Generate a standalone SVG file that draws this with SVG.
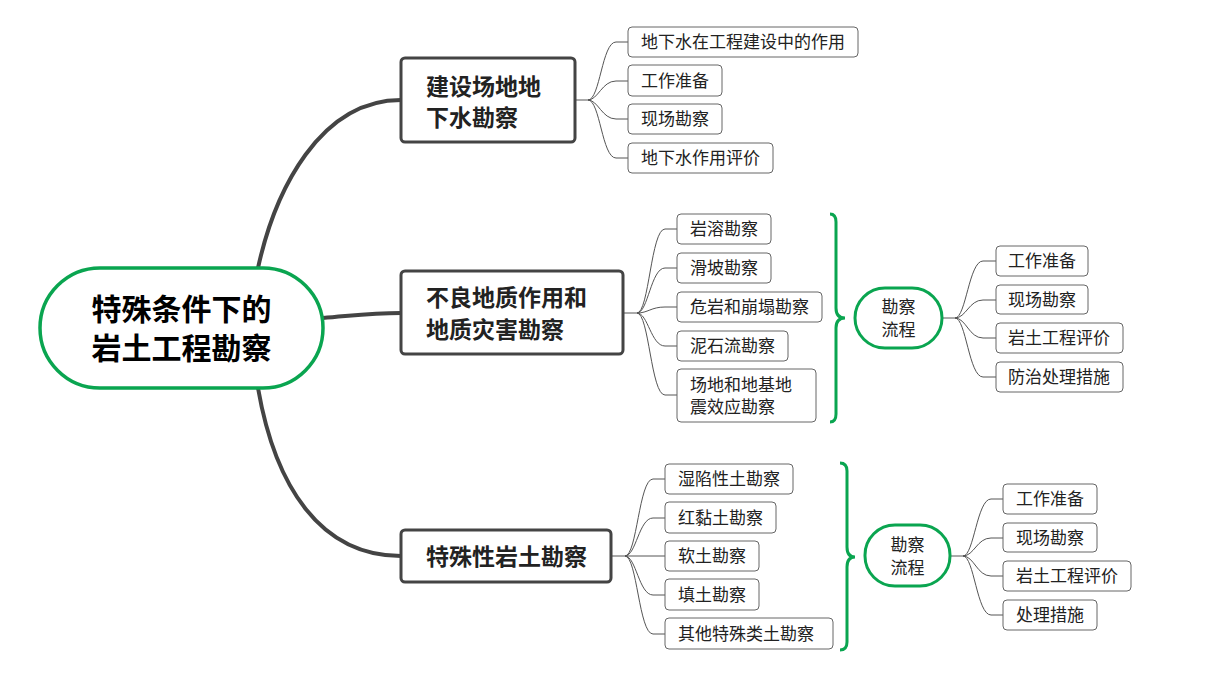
<svg xmlns="http://www.w3.org/2000/svg" width="1220" height="686" viewBox="0 0 1220 686">
<style>
text{font-family:"Microsoft YaHei","Noto Sans CJK SC",sans-serif;fill:#222}
.t{font-size:17px}
.b{font-size:23px;font-weight:bold}
.r{font-size:30px;font-weight:bold;fill:#000}
.leaf{fill:#fff;stroke:#666;stroke-width:1}
.br{fill:#fff;stroke:#444;stroke-width:3}
.gr{fill:#fff;stroke:#0aa550;stroke-width:3.5}
.main{fill:none;stroke:#444;stroke-width:4}
.thin{fill:none;stroke:#555;stroke-width:1}
.brace{fill:none;stroke:#0aa550;stroke-width:3}
</style>
<rect width="1220" height="686" fill="#fff"/>
<g id="connectors">
<path class="main" d="M258,268 C275,190 320,100 401,100"/>
<path class="main" d="M323,318 C350,316 370,313 401,313"/>
<path class="main" d="M258,388 C275,486 320,556 401,556"/>
<path class="thin" d="M575,100 H588 C600,100 602,42 616,42 H628"/>
<path class="thin" d="M588,100 C598,100 602,81 616,81 H628"/>
<path class="thin" d="M588,100 C598,100 602,119 616,119 H628"/>
<path class="thin" d="M588,100 C600,100 602,158 616,158 H628"/>
<path class="thin" d="M623,313 H637 C649,313 651,229 665,229 H677"/>
<path class="thin" d="M637,313 C648,313 651,268 665,268 H677"/>
<path class="thin" d="M637,313 C648,313 651,307 665,307 H677"/>
<path class="thin" d="M637,313 C648,313 651,346 665,346 H677"/>
<path class="thin" d="M637,313 C649,313 651,395 665,395 H677"/>
<path class="thin" d="M942,318 H955 C966,318 969,261 983,261 H996"/>
<path class="thin" d="M955,318 C966,318 969,300 983,300 H996"/>
<path class="thin" d="M955,318 C966,318 969,338 983,338 H996"/>
<path class="thin" d="M955,318 C966,318 969,377 983,377 H996"/>
<path class="thin" d="M611,556 H625 C637,556 639,479 653,479 H665"/>
<path class="thin" d="M625,556 C636,556 639,518 653,518 H665"/>
<path class="thin" d="M625,556 H665"/>
<path class="thin" d="M625,556 C636,556 639,595 653,595 H665"/>
<path class="thin" d="M625,556 C637,556 639,634 653,634 H665"/>
<path class="thin" d="M950,556 H963 C974,556 977,499 991,499 H1003"/>
<path class="thin" d="M963,556 C974,556 977,538 991,538 H1003"/>
<path class="thin" d="M963,556 C974,556 977,576 991,576 H1003"/>
<path class="thin" d="M963,556 C974,556 977,615 991,615 H1003"/>
<path class="brace" d="M830,214 Q836,214 836,222 V308 Q836,318 845,318 Q836,318 836,328 V414 Q836,422 830,422"/>
<path class="brace" d="M840,463 Q847,463 847,471 V547 Q847,557 855,557 Q847,557 847,567 V642 Q847,650 840,650"/>
</g>
<g id="root">
<rect class="gr" x="40" y="268" width="283" height="120" rx="60"/>
<text class="r" x="181.5" y="320" text-anchor="middle">特殊条件下的</text>
<text class="r" x="181.5" y="359" text-anchor="middle">岩土工程勘察</text>
</g>
<g id="b1">
<rect class="br" x="401" y="58" width="174" height="84" rx="4"/>
<text class="b" x="426" y="95">建设场地地</text>
<text class="b" x="426" y="126">下水勘察</text>
</g>
<g id="b1c1"><rect class="leaf" x="628" y="27" width="230" height="30" rx="4"/><text class="t" x="641" y="48">地下水在工程建设中的作用</text></g>
<g id="b1c2"><rect class="leaf" x="628" y="65" width="94" height="31" rx="4"/><text class="t" x="641" y="87">工作准备</text></g>
<g id="b1c3"><rect class="leaf" x="628" y="104" width="94" height="30" rx="4"/><text class="t" x="641" y="125">现场勘察</text></g>
<g id="b1c4"><rect class="leaf" x="628" y="143" width="145" height="30" rx="4"/><text class="t" x="641" y="164">地下水作用评价</text></g>
<g id="b2">
<rect class="br" x="401" y="271" width="222" height="83" rx="4"/>
<text class="b" x="426" y="306">不良地质作用和</text>
<text class="b" x="426" y="338">地质灾害勘察</text>
</g>
<g id="b2c1"><rect class="leaf" x="677" y="214" width="94" height="30" rx="4"/><text class="t" x="690" y="235">岩溶勘察</text></g>
<g id="b2c2"><rect class="leaf" x="677" y="253" width="94" height="30" rx="4"/><text class="t" x="690" y="274">滑坡勘察</text></g>
<g id="b2c3"><rect class="leaf" x="677" y="292" width="145" height="30" rx="4"/><text class="t" x="690" y="313">危岩和崩塌勘察</text></g>
<g id="b2c4"><rect class="leaf" x="677" y="331" width="111" height="30" rx="4"/><text class="t" x="690" y="352">泥石流勘察</text></g>
<g id="b2c5"><rect class="leaf" x="677" y="369" width="139" height="53" rx="4"/><text class="t" x="690" y="391">场地和地基地</text><text class="t" x="690" y="413">震效应勘察</text></g>
<g id="p1">
<rect class="gr" x="855" y="288" width="87" height="60" rx="30" style="stroke-width:3"/>
<text class="t" x="898.5" y="313" text-anchor="middle">勘察</text>
<text class="t" x="898.5" y="336" text-anchor="middle">流程</text>
</g>
<g id="p1c1"><rect class="leaf" x="996" y="246" width="92" height="30" rx="4"/><text class="t" x="1008" y="267">工作准备</text></g>
<g id="p1c2"><rect class="leaf" x="996" y="285" width="92" height="29" rx="4"/><text class="t" x="1008" y="306">现场勘察</text></g>
<g id="p1c3"><rect class="leaf" x="996" y="323" width="127" height="30" rx="4"/><text class="t" x="1008" y="344">岩土工程评价</text></g>
<g id="p1c4"><rect class="leaf" x="996" y="362" width="127" height="30" rx="4"/><text class="t" x="1008" y="383">防治处理措施</text></g>
<g id="b3">
<rect class="br" x="401" y="530" width="210" height="52" rx="4"/>
<text class="b" x="426" y="565">特殊性岩土勘察</text>
</g>
<g id="b3c1"><rect class="leaf" x="665" y="464" width="128" height="30" rx="4"/><text class="t" x="678" y="485">湿陷性土勘察</text></g>
<g id="b3c2"><rect class="leaf" x="665" y="502" width="111" height="31" rx="4"/><text class="t" x="678" y="524">红黏土勘察</text></g>
<g id="b3c3"><rect class="leaf" x="665" y="541" width="94" height="30" rx="4"/><text class="t" x="678" y="562">软土勘察</text></g>
<g id="b3c4"><rect class="leaf" x="665" y="579" width="94" height="31" rx="4"/><text class="t" x="678" y="601">填土勘察</text></g>
<g id="b3c5"><rect class="leaf" x="665" y="618" width="168" height="31" rx="4"/><text class="t" x="678" y="640">其他特殊类土勘察</text></g>
<g id="p2">
<rect class="gr" x="865" y="525" width="85" height="61" rx="30" style="stroke-width:3"/>
<text class="t" x="907.5" y="551" text-anchor="middle">勘察</text>
<text class="t" x="907.5" y="574" text-anchor="middle">流程</text>
</g>
<g id="p2c1"><rect class="leaf" x="1003" y="484" width="94" height="30" rx="4"/><text class="t" x="1016" y="505">工作准备</text></g>
<g id="p2c2"><rect class="leaf" x="1003" y="523" width="94" height="29" rx="4"/><text class="t" x="1016" y="544">现场勘察</text></g>
<g id="p2c3"><rect class="leaf" x="1003" y="561" width="128" height="30" rx="4"/><text class="t" x="1016" y="582">岩土工程评价</text></g>
<g id="p2c4"><rect class="leaf" x="1003" y="600" width="94" height="30" rx="4"/><text class="t" x="1016" y="621">处理措施</text></g>
</svg>
